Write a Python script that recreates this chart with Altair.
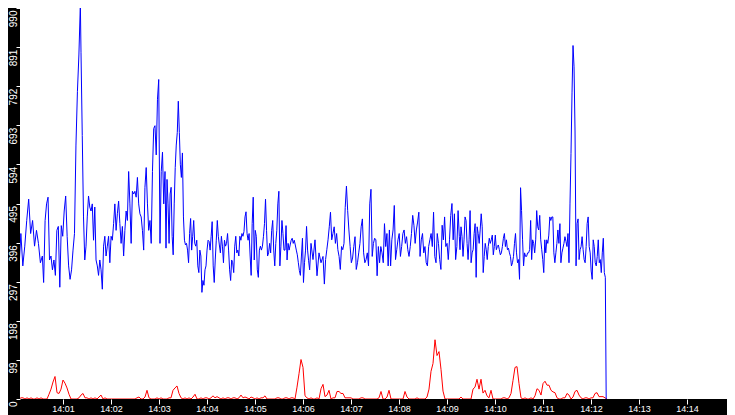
import altair as alt
import numpy as np
import pandas as pd

# --- axis tick values -------------------------------------------------------
X_TICKS = [60, 120, 180, 240, 300, 360, 420, 480, 540, 600, 660, 720, 780, 840]  # seconds after 14:00
Y_TICKS = [0, 99, 198, 297, 396, 495, 594, 693, 792, 891, 990]

# --- blue series (chunks: start s, end s, values) ---
blue_c1 = [327, 394, 327, 419, 337, 387, 452, 506, 419, 452, 387, 427, 394, 345, 362]
blue_c2 = [295, 452, 494, 511, 352, 362, 327, 352, 313, 427, 437, 283, 439, 412, 476, 514, 412, 337,
           303, 327, 377, 419, 643, 779, 871, 1000]
blue_c3 = [878, 667, 461, 352, 387, 461, 514, 486, 476, 494, 402, 486, 352, 337, 313, 352, 327, 278,
           387, 412, 362, 387, 412, 345, 412, 402, 444, 494, 427, 469, 501, 444, 394, 437, 362, 427,
           476, 452, 576, 494, 394, 526, 519, 526, 511, 561, 494, 469, 461, 427, 377, 536, 586, 494,
           427, 452, 394, 576, 685, 692, 618, 759, 809, 394, 576, 625, 494, 576]
blue_c4 = [382, 556, 494, 394, 519, 536, 412, 365, 494, 586, 643, 675, 754, 675, 593, 561, 623, 461,
           402, 390, 394, 377, 345, 419, 457, 377, 412, 452, 394, 387, 402, 337, 320, 377, 362, 270,
           300, 288, 327, 337, 377, 402, 399, 377, 412, 449, 337, 295, 352, 402, 452, 412, 390, 370,
           412, 387, 345, 402, 387, 394, 419, 377, 327, 300, 352, 345, 320, 387, 412, 370, 377, 362,
           412, 402, 419, 412, 424, 461, 474, 419, 402, 419, 362, 313, 444, 511, 352, 427, 412, 327,
           308, 377, 387, 377, 387, 412, 444, 506, 427, 362, 370, 394, 370, 427, 452, 377, 337, 394,
           427, 494, 526, 337, 387, 452, 419, 377, 377, 439, 352, 394, 377, 390, 402, 407, 394, 402,
           390, 377, 365, 345, 325, 313, 362, 407, 295, 345, 377, 437, 377, 350, 327]
blue_c5 = [394, 353, 403, 312, 370, 345, 361]
blue_c6 = [291, 353, 378, 403, 436, 473, 403, 419, 436, 394, 419, 378, 361, 328, 386, 378, 394, 485,
           539, 477, 428, 386, 345, 357, 386, 411, 328, 345, 370, 394, 436, 456, 370, 345, 353, 370,
           337, 494, 531, 361, 394, 407, 403, 312, 386, 345, 386, 370, 345, 444, 386, 419, 337, 428,
           337, 403, 428, 490, 353, 378, 403, 419, 361, 386, 419, 428, 394, 411, 378, 361, 386, 419,
           465, 440, 394, 428, 448, 473, 361, 403, 419, 370, 386, 345, 337, 386, 403, 419, 386, 473,
           361, 345, 419, 394, 353, 328, 440, 403, 461, 386, 394, 353, 403, 465, 495, 403, 469, 353,
           386, 477, 411]
blue_c7 = [378, 436, 411, 361, 403, 461, 452, 394, 353, 403, 477, 345, 370, 378, 419, 444, 308, 436,
           419, 394, 428, 469, 436, 320, 361, 394, 378, 353, 386, 407, 394, 403, 415, 365, 386, 415,
           378, 386, 390, 378, 365, 370, 386, 407, 419, 386, 403, 378, 382, 370, 361, 337, 345, 361,
           394, 419, 370, 345, 353, 303, 535, 477, 403, 337, 370, 361, 361, 370, 370, 378, 452, 353,
           403, 394, 370, 403, 477, 436, 428, 465, 403, 378, 353, 320, 403, 370, 403, 394, 415, 461,
           452, 461, 461, 370, 345, 370, 394, 428, 394, 444, 345, 370, 382, 394, 411, 399, 386, 419,
           345, 494, 622, 775, 895, 841, 676, 337, 444, 456, 353, 378, 386, 411, 378, 353, 345, 386,
           444, 461, 386, 370, 324, 303, 403, 386, 345, 337, 361, 403, 345, 353, 320, 370, 407, 320, 308]
blue_end = [0]

blue_chunks = [
    (0.0, 34.2, blue_c1),
    (35.8, 81.7, blue_c2),
    (82.5, 187.5, blue_c3),
    (188.75, 368.3, blue_c4),
    (370.0, 385.0, blue_c5),
    (386.7, 555.4, blue_c6),
    (556.25, 737.9, blue_c7),
    (739.0, 739.0, blue_end),
]

# --- red series, one value every 2.5 s from 14:00:00 to 14:12:20 -----------
red_vals = [
    3, 0, 0, 3, 3, 0, 3, 0, 3, 0,  0, 3, 0, 3, 0, 0, 0, 12, 25, 43,
    57, 16, 14, 25, 48, 40, 28, 12, 0, 0,  0, 0, 3, 10, 14, 3, 3, 0, 3, 0,
    3, 0, 5, 10, 0, 3, 0, 0, 0, 0,  0, 0, 0, 0, 0, 0, 0, 0, 0, 0,
    0, 3, 5, 0, 0, 5, 22, 3, 0, 0,  0, 3, 0, 3, 0, 0, 0, 3, 3, 22,
    28, 33, 14, 3, 0, 3, 0, 3, 0, 5,  12, 0, 0, 3, 0, 3, 3, 0, 3, 8,
    3, 6, 3, 0, 3, 0, 3, 3, 0, 3,  3, 0, 3, 10, 3, 5, 3, 0, 5, 3,
    0, 3, 0, 3, 3, 8, 0, 0, 0, 0,  0, 3, 3, 0, 0, 3, 3, 0, 3, 3,
    0, 30, 64, 100, 80, 8, 3, 0, 3, 0,
    0, 3, 0, 26, 37, 6, 10, 22, 0, 3,  3, 19, 19, 14, 14, 3, 3, 3, 3, 0,
    0, 0, 0, 3, 3, 0, 0, 0, 0, 0,  0, 0, 3, 19, 0, 0, 5, 22, 0, 0,
    0, 0, 0, 0, 0, 19, 5, 0, 0, 0,  0, 3, 0, 0, 0, 0, 5, 25, 70, 90,
    150, 110, 120, 75, 20, 0, 0, 0, 0, 0,  0, 0, 0, 5, 0, 0, 0, 0, 0, 25,
    30, 50, 25, 50, 15, 22, 8, 3, 22, 0,  0, 0, 0, 0, 3, 3, 0, 3, 14, 47,
    80, 82, 39, 3, 0, 3, 0, 0, 3, 0,  8, 26, 22, 10, 39, 45, 35, 35, 22, 18,
    16, 3, 0, 0, 3, 3, 14, 10, 0, 5,  19, 22, 10, 3, 0, 3, 3, 0, 3, 3,
    14, 16, 6, 6, 6, 3, 0,
]
red_span = (0.0, 740.0)

# --- build tables -----------------------------------------------------------
bt, bv = [], []
for t0, t1, vals in blue_chunks:
    bt.extend(np.linspace(t0, t1, len(vals)).tolist())
    bv.extend(vals)
blue_df = pd.DataFrame({"t": bt, "v": bv})
red_df = pd.DataFrame({"t": np.linspace(red_span[0], red_span[1], len(red_vals)), "v": red_vals})

FONT = "Liberation Sans"

x_enc = alt.X(
    "t:Q",
    scale=alt.Scale(domain=[6.25, 890], nice=False, zero=False),
    axis=alt.Axis(
        values=X_TICKS,
        labelExpr="'14:' + (datum.value < 600 ? '0' : '') + format(datum.value / 60, 'd')",
        title=None, grid=False, domain=False,
        tickColor="white", tickSize=5, tickWidth=1,
        labelColor="white", labelFont=FONT, labelFontSize=9,
        labelPadding=0, labelFlush=False, labelOverlap=False, labelBound=False,
    ),
)
y_enc = alt.Y(
    "v:Q",
    scale=alt.Scale(domain=[0, 990], nice=False),
    axis=alt.Axis(
        values=Y_TICKS,
        title=None, grid=False, domain=False,
        tickColor="white", tickSize=4, tickWidth=1,
        labelColor="white", labelFont=FONT, labelFontSize=10,
        labelAngle=-90, labelAlign="right", labelBaseline="alphabetic",
        labelOffset=2, labelPadding=0, labelFlush=False, labelOverlap=False, labelBound=False,
    ),
)

red_line = alt.Chart(red_df).mark_line(color="#ff0000", strokeWidth=1, clip=True).encode(x=x_enc, y=y_enc)
blue_line = alt.Chart(blue_df).mark_line(color="#0000ff", strokeWidth=1, clip=True).encode(x=x_enc, y=y_enc)

chart = (
    alt.layer(red_line, blue_line)
    .properties(
        width=707,
        height=391,
        padding={"left": 12, "top": 0, "right": 0, "bottom": 16},
        autosize=alt.AutoSizeParams(type="none"),
    )
    .configure(background="black")
    .configure_view(fill="white", stroke="transparent", strokeWidth=0)
)

chart.save("out.html", embed_options={"renderer": "svg", "actions": False})
